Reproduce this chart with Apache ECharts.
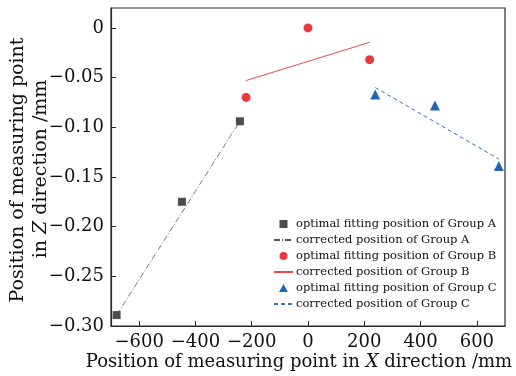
<!DOCTYPE html>
<html>
<head>
<meta charset="utf-8">
<script src="https://cdn.jsdelivr.net/npm/echarts@6/dist/echarts.min.js"></script>
<style>
	html, body { margin: 0; padding: 0; background: #fff; }
	#chart { width: 516px; height: 376px; }
</style>
</head>
<body>
<div id="chart"></div>
<script>
// data
const groupA = [[-680, -0.289], [-448, -0.175], [-242, -0.094]];
const groupB = [[-220, -0.070], [0, 0.000], [219, -0.032]];
const groupC = [[239, -0.067], [451, -0.078], [678, -0.139]];
const lineA = [[-680, -0.289], [-242, -0.094]];
const lineB = [[-220, -0.053], [219, -0.0145]];
const lineC = [[239, -0.060], [678, -0.132]];
const xTicks = [-600, -400, -200, 0, 200, 400, 600];
const yTicks = [-0.30, -0.25, -0.20, -0.15, -0.10, -0.05, 0];
const legendNames = [
	'optimal fitting position of Group A',
	'corrected position of Group A',
	'optimal fitting position of Group B',
	'corrected position of Group B',
	'optimal fitting position of Group C',
	'corrected position of Group C'
];

const FONT = 'DejaVu Serif';
const axisColor = '#2a2a2a';
const colA = '#4d4d4d';
const colB = '#e8393f';
const colC = '#2466b4';

function minus(s) {
	return s.replace('-', '\u2212');
}

const chart = echarts.init(document.getElementById('chart'), null, { renderer: 'canvas' });

const option = {
	animation: false,
	grid: {
		left: 111,
		right: 11,
		top: 8,
		bottom: 50,
		show: true,
		borderColor: axisColor,
		borderWidth: 1.2
	},
	xAxis: {
		type: 'value',
		min: -700,
		max: 700,
		splitLine: { show: false },
		axisLine: { onZero: false, lineStyle: { color: axisColor, width: 1.2 } },
		axisTick: { inside: true, length: 5, customValues: xTicks, lineStyle: { color: axisColor } },
		axisLabel: {
			customValues: xTicks,
			margin: 7,
			fontFamily: FONT,
			fontSize: 18,
			color: '#111',
			formatter: (v) => minus(String(v))
		}
	},
	yAxis: {
		type: 'value',
		min: -0.30,
		max: 0.02,
		splitLine: { show: false },
		axisLine: { onZero: false, lineStyle: { color: axisColor, width: 1.2 } },
		axisTick: { inside: true, length: 5, customValues: yTicks, lineStyle: { color: axisColor } },
		axisLabel: {
			customValues: yTicks,
			margin: 7,
			fontFamily: FONT,
			fontSize: 18,
			color: '#111',
			formatter: (v) => (Math.abs(v) < 1e-9 ? '0' : minus(v.toFixed(2)))
		}
	},
	legend: {
		orient: 'vertical',
		left: 273,
		top: 216,
		padding: 0,
		itemWidth: 19,
		itemHeight: 8,
		itemGap: 0,
		symbolKeepAspect: true,
		data: [
			{ name: legendNames[0], icon: 'path://M0,0H10V10H0Z' },
			{ name: legendNames[1] },
			{ name: legendNames[2], icon: 'circle' },
			{ name: legendNames[3] },
			{ name: legendNames[4], icon: 'path://M5,0L10,9L0,9Z' },
			{ name: legendNames[5] }
		],
		textStyle: { fontFamily: FONT, fontSize: 11.5, color: '#111', lineHeight: 16, padding: [0, 0, 0, -2] }
	},
	graphic: [
		{
			type: 'text',
			x: 299,
			y: 362,
			style: {
				text: '{n|Position of measuring point in }{i|X}{n| direction /mm}',
				align: 'center',
				verticalAlign: 'middle',
				rich: {
					n: { fontFamily: FONT, fontSize: 18, fill: '#111' },
					i: { fontFamily: FONT, fontSize: 18, fontStyle: 'italic', fill: '#111' }
				}
			}
		},
		{
			type: 'text',
			x: 18,
			y: 170,
			rotation: Math.PI / 2,
			style: {
				text: 'Position of measuring point',
				align: 'center',
				verticalAlign: 'middle',
				fontFamily: FONT,
				fontSize: 19,
				fill: '#111'
			}
		},
		{
			type: 'text',
			x: 41,
			y: 169,
			rotation: Math.PI / 2,
			style: {
				text: '{n|in }{i|Z}{n| direction /mm}',
				align: 'center',
				verticalAlign: 'middle',
				rich: {
					n: { fontFamily: FONT, fontSize: 19, fill: '#111' },
					i: { fontFamily: FONT, fontSize: 19, fontStyle: 'italic', fill: '#111' }
				}
			}
		}
	],
	series: [
		{
			name: legendNames[0],
			type: 'scatter',
			data: groupA,
			symbol: 'rect',
			symbolSize: 8,
			itemStyle: { color: colA, opacity: 1 },
			z: 3
		},
		{
			name: legendNames[1],
			type: 'line',
			data: lineA,
			symbol: 'none',
			itemStyle: { color: 'rgba(0,0,0,0)' },
			lineStyle: { color: '#555', width: 0.8, type: [6, 2, 1, 2] }
		},
		{
			name: legendNames[2],
			type: 'scatter',
			data: groupB,
			symbol: 'circle',
			symbolSize: 9,
			itemStyle: { color: colB, opacity: 1 },
			z: 3
		},
		{
			name: legendNames[3],
			type: 'line',
			data: lineB,
			symbol: 'none',
			itemStyle: { color: 'rgba(0,0,0,0)' },
			lineStyle: { color: '#f04848', width: 1 }
		},
		{
			name: legendNames[4],
			type: 'scatter',
			data: groupC,
			symbol: 'triangle',
			symbolSize: 10,
			itemStyle: { color: colC, opacity: 1 },
			z: 3
		},
		{
			name: legendNames[5],
			type: 'line',
			data: lineC,
			symbol: 'none',
			itemStyle: { color: 'rgba(0,0,0,0)' },
			lineStyle: { color: '#3b70c4', width: 1, type: [4, 3] }
		}
	]
};

chart.setOption(option);
</script>
</body>
</html>
